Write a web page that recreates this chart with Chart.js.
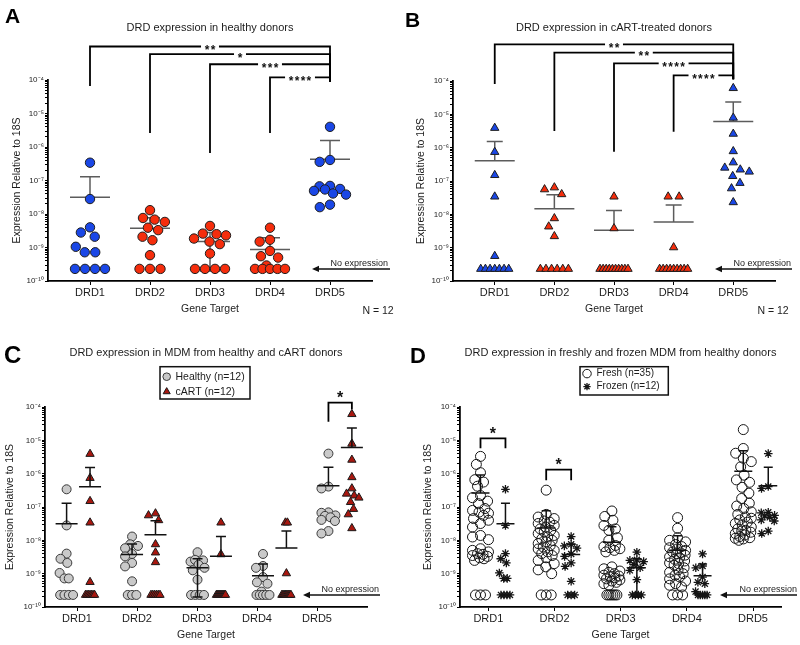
<!DOCTYPE html>
<html><head><meta charset="utf-8">
<script src="https://cdn.jsdelivr.net/npm/chart.js@4.4.1/dist/chart.umd.min.js"></script>
<style>
html,body{margin:0;padding:0;background:#fff;}
#wrap{position:relative;width:800px;height:645px;overflow:hidden;background:#fff;}
canvas{position:absolute;}
</style></head><body>
<div id="wrap">
<canvas id="cA" width="400" height="322" style="left:0;top:0"></canvas>
<canvas id="cB" width="400" height="322" style="left:400px;top:0"></canvas>
<canvas id="cC" width="400" height="323" style="left:0;top:322px"></canvas>
<canvas id="cD" width="400" height="323" style="left:400px;top:322px"></canvas>
</div>
<script>
// ---------------- data ----------------
const genes = ['DRD1', 'DRD2', 'DRD3', 'DRD4', 'DRD5'];
const yTickExponents = [-10, -9, -8, -7, -6, -5, -4];
const yTickLabels = ['10⁻¹⁰', '10⁻⁹', '10⁻⁸', '10⁻⁷', '10⁻⁶', '10⁻⁵', '10⁻⁴'];
const NOEXP = 2.3e-10; // "No expression" level

// Healthy donors (n=12), panel A; also "Healthy" in C and "Frozen" in D
const healthyDRD1 = [3.4e-7, 2.8e-8, 4e-9, 2.8e-9, 2.1e-9, 1.05e-9, 7.2e-10, 7.2e-10, 2.3e-10, 2.3e-10, 2.3e-10, 2.3e-10];
const healthyDRD2 = [1.3e-8, 7.6e-9, 6.8e-9, 5.8e-9, 3.9e-9, 3.3e-9, 2.1e-9, 1.65e-9, 5.9e-10, 2.3e-10, 2.3e-10, 2.3e-10];
const healthyDRD3 = [4.4e-9, 2.5e-9, 2.3e-9, 2.6e-9, 1.85e-9, 1.5e-9, 1.26e-9, 6.6e-10, 2.3e-10, 2.3e-10, 2.3e-10, 2.3e-10];
const healthyDRD4 = [3.9e-9, 1.7e-9, 1.5e-9, 7.9e-10, 5.5e-10, 5e-10, 2.9e-10, 2.3e-10, 2.3e-10, 2.3e-10, 2.3e-10, 2.3e-10];
const healthyDRD5 = [4e-6, 4.1e-7, 3.6e-7, 6.9e-8, 6.7e-8, 5.6e-8, 5.4e-8, 4.9e-8, 4.1e-8, 3.8e-8, 1.9e-8, 1.6e-8];

// cART-treated donors (n=12), panel B; also "cART" in C
const cartDRD1 = [3.9e-6, 7.4e-7, 1.5e-7, 3.4e-8, 5.6e-10, 2.3e-10, 2.3e-10, 2.3e-10, 2.3e-10, 2.3e-10, 2.3e-10, 2.3e-10];
const cartDRD2 = [6.4e-8, 5.6e-8, 4e-8, 7.6e-9, 4.3e-9, 2.2e-9, 2.3e-10, 2.3e-10, 2.3e-10, 2.3e-10, 2.3e-10, 2.3e-10];
const cartDRD3 = [3.4e-8, 3.8e-9, 2.3e-10, 2.3e-10, 2.3e-10, 2.3e-10, 2.3e-10, 2.3e-10, 2.3e-10, 2.3e-10, 2.3e-10, 2.3e-10];
const cartDRD4 = [3.4e-8, 3.4e-8, 1.02e-9, 2.3e-10, 2.3e-10, 2.3e-10, 2.3e-10, 2.3e-10, 2.3e-10, 2.3e-10, 2.3e-10, 2.3e-10];
const cartDRD5 = [6.1e-5, 7.9e-6, 2.6e-6, 7.8e-7, 3.6e-7, 2.5e-7, 2.2e-7, 1.9e-7, 1.4e-7, 8.7e-8, 6e-8, 2.3e-8];

// Freshly isolated MDM (n=35), panel D
const freshDRD1 = [3.3e-6, 1.9e-6, 1.07e-6, 6.6e-7, 5.6e-7, 4.2e-7, 2.2e-7, 1.9e-7, 1.5e-7, 1.26e-7, 9e-8, 7.9e-8, 7e-8, 6.5e-8, 5.6e-8, 4.5e-8, 4e-8, 3.2e-8, 2.5e-8, 1.4e-8, 1.26e-8, 1.05e-8, 5.6e-9, 5e-9, 4.5e-9, 4e-9, 3.8e-9, 3.5e-9, 3.3e-9, 3e-9, 2.8e-9, 2.5e-9, 2.3e-10, 2.3e-10, 2.3e-10];
const freshDRD2 = [3.2e-7, 6e-8, 5e-8, 4.5e-8, 3.8e-8, 3.5e-8, 3.2e-8, 2.8e-8, 2.5e-8, 2.2e-8, 2e-8, 1.8e-8, 1.6e-8, 1.4e-8, 1.26e-8, 1.1e-8, 1e-8, 9e-9, 8e-9, 7e-9, 6.3e-9, 5.5e-9, 5e-9, 4.5e-9, 4e-9, 3.5e-9, 3e-9, 2.5e-9, 2e-9, 1.6e-9, 1.3e-9, 1e-9, 2.3e-10, 2.3e-10, 2.3e-10];
const freshDRD3 = [7.6e-8, 5.2e-8, 4e-8, 2.8e-8, 2.2e-8, 2e-8, 1.2e-8, 1e-8, 7e-9, 6.5e-9, 6e-9, 5.6e-9, 5e-9, 4.5e-9, 1.6e-9, 1.4e-9, 1.2e-9, 1.1e-9, 1e-9, 9e-10, 8.5e-10, 8e-10, 7.5e-10, 7e-10, 6.5e-10, 6e-10, 5.5e-10, 5e-10, 4.5e-10, 2.3e-10, 2.3e-10, 2.3e-10, 2.3e-10, 2.3e-10, 2.3e-10];
const freshDRD4 = [4.8e-8, 2.3e-8, 1.2e-8, 1e-8, 9e-9, 7.5e-9, 6.5e-9, 6e-9, 5.5e-9, 5e-9, 4.5e-9, 4.2e-9, 4e-9, 3.6e-9, 3.2e-9, 3e-9, 2.7e-9, 2.4e-9, 2.1e-9, 2e-9, 1.8e-9, 1.5e-9, 1.3e-9, 1.1e-9, 1e-9, 9e-10, 8e-10, 7e-10, 6e-10, 5e-10, 4.5e-10, 4e-10, 2.3e-10, 2.3e-10, 2.3e-10];
const freshDRD5 = [2.1e-5, 5.7e-6, 4.1e-6, 2.9e-6, 2.3e-6, 1.6e-6, 9e-7, 6.5e-7, 5.5e-7, 3.9e-7, 2.6e-7, 1.8e-7, 1.3e-7, 1.07e-7, 9e-8, 7.2e-8, 6e-8, 5e-8, 4.6e-8, 4.1e-8, 3.5e-8, 3.2e-8, 2.9e-8, 2.5e-8, 2.2e-8, 2e-8, 1.9e-8, 1.75e-8, 1.6e-8, 1.45e-8, 1.3e-8, 1.2e-8, 1.15e-8, 1.1e-8, 1e-8];

const healthy = [healthyDRD1, healthyDRD2, healthyDRD3, healthyDRD4, healthyDRD5];
const cart = [cartDRD1, cartDRD2, cartDRD3, cartDRD4, cartDRD5];
const fresh = [freshDRD1, freshDRD2, freshDRD3, freshDRD4, freshDRD5];

// significance brackets: [gene1, series1, gene2, series2, label, log10 top, log10 left end, log10 right end]
const bracketsA = [[0,0,4,0,'**',-3.0,-4.18,-4.05],[1,0,4,0,'*',-3.23,-5.58,-4.05],[2,0,4,0,'***',-3.53,-6.18,-4.05],[3,0,4,0,'****',-3.92,-5.58,-4.05]];
const bracketsB = [[0,0,4,0,'**',-2.9,-4.09,-3.95],[1,0,4,0,'**',-3.15,-5.5,-3.95],[2,0,4,0,'****',-3.47,-6.12,-3.95],[3,0,4,0,'****',-3.83,-5.52,-3.95]];
const bracketsC = [[4,0,4,1,'*',-3.87,-4.44,-4.07]];
const bracketsD = [[0,0,0,1,'*',-4.94,-5.24,-5.24],[1,0,1,1,'*',-5.88,-6.2,-6.2]];

// ---------------- helpers ----------------
const FONT = '"Liberation Sans", Arial, Helvetica, sans-serif';
const BLUE = '#1a47e6', RED = '#f52d0c', GRAY = '#c9c9c9', DKRED = '#a8170f';

function meanSD(a) {
  const m = a.reduce((s, v) => s + v, 0) / a.length;
  const sd = Math.sqrt(a.reduce((s, v) => s + (v - m) * (v - m), 0) / (a.length - 1));
  return {m, sd};
}

function swarm(values, o) {
  const n = values.length;
  const ys = values.map(v => -Math.log10(v) * o.ppd);
  const off = new Array(n).fill(null);
  const groups = new Map();
  values.forEach((v, i) => { const k = v.toExponential(3); if (!groups.has(k)) groups.set(k, []); groups.get(k).push(i); });
  groups.forEach(g => {
    if (g.length < 2) return;
    const sp = Math.min(o.rowSp, 2 * o.rowHalf / (g.length - 1));
    g.forEach((i, j) => { off[i] = (j - (g.length - 1) / 2) * sp; });
  });
  const order = [...Array(n).keys()].filter(i => off[i] === null).sort((a, b) => values[b] - values[a]);
  for (const i of order) {
    const placed = [...Array(n).keys()].filter(j => off[j] !== null);
    const cands = [0];
    placed.forEach(j => {
      const dy = ys[i] - ys[j];
      if (Math.abs(dy) < o.d) { const dx = Math.sqrt(o.d * o.d - dy * dy); cands.push(off[j] + dx, off[j] - dx); }
    });
    cands.sort((a, b) => Math.abs(a) - Math.abs(b) || a - b);
    const ok = c => placed.every(j => (c - off[j]) ** 2 + (ys[i] - ys[j]) ** 2 >= o.d * o.d - 0.01);
    let best = cands.find(c => Math.abs(c) <= o.maxHalf + 1e-6 && ok(c));
    if (best === undefined) {
      let bestScore = -Infinity;
      for (let c = -o.maxHalf; c <= o.maxHalf + 1e-6; c += 0.5) {
        const md = Math.min(...placed.map(j => Math.hypot(c - off[j], ys[i] - ys[j])));
        const score = md - Math.abs(c) * 0.05;
        if (score > bestScore) { bestScore = score; best = c; }
      }
    }
    off[i] = best;
  }
  return off;
}

const yTickValues = [];
yTickExponents.forEach(e => {
  if (e === yTickExponents[yTickExponents.length - 1]) { yTickValues.push(Math.pow(10, e)); return; }
  for (let m = 1; m <= 9; m++) yTickValues.push(m * Math.pow(10, e));
});
function yLabel(v) {
  const l = Math.log10(v), r = Math.round(l);
  if (Math.abs(l - r) > 1e-6) return '';
  const k = yTickExponents.indexOf(r);
  return k >= 0 ? yTickLabels[k] : '';
}

// ---------------- panel specs ----------------
const specs = [
  {
    canvas: 'cA', letter: 'A', letterFont: 'bold 21px ' + FONT, letterPos: [5, 23],
    title: 'DRD expression in healthy donors', titleY: 28,
    area: {l: 48, t: 80, r: 372, b: 281}, x: [0.3, 5.7], labelStart: 1, labelStep: 1,
    series: [{name: 'Healthy', values: healthy, dx: 0, pointStyle: 'circle', radius: 4.7,
      fill: g => (g === 0 || g === 4) ? BLUE : RED, stroke: '#1e1e1e', bw: 1,
      swarm: {d: 10.5, maxHalf: 16, rowSp: 10.5, rowHalf: 15}, err: {color: '#5c5c5c', mean: 20, cap: 10}}],
    errOnTop: false, brackets: bracketsA, inline: true,
    noExpr: {from: -60, to: 18, text: 16}, nLabel: {text: 'N = 12', x: 378, y: 311},
    yTitleX: 17.5, xTitleY: 309
  },
  {
    canvas: 'cB', letter: 'B', letterFont: 'bold 21px ' + FONT, letterPos: [5, 27],
    title: 'DRD expression in cART-treated donors', titleY: 28,
    area: {l: 53, t: 81, r: 375, b: 281}, x: [0.3, 5.7], labelStart: 1, labelStep: 1,
    series: [{name: 'cART', values: cart, dx: 0, pointStyle: 'triangle', radius: 4.8,
      fill: g => (g === 0 || g === 4) ? BLUE : RED, stroke: '#1e1e1e', bw: 1,
      swarm: {d: 10, maxHalf: 16, rowSp: 11, rowHalf: 14}, err: {color: '#5c5c5c', mean: 20, cap: 8}}],
    errOnTop: false, brackets: bracketsB, inline: true,
    noExpr: {from: -60, to: 17, text: 16}, nLabel: {text: 'N = 12', x: 373, y: 311},
    yTitleX: 21, xTitleY: 309
  },
  {
    canvas: 'cC', letter: 'C', letterFont: 'bold 24px ' + FONT, letterPos: [4, 41],
    title: 'DRD expression in MDM from healthy and cART donors', titleY: 31,
    area: {l: 45, t: 85, r: 367, b: 285}, x: [0.491, 5.41], labelStart: 0.98, labelStep: 0.9166,
    series: [
      {name: 'Healthy (n=12)', values: healthy, dx: -0.179, pointStyle: 'circle', radius: 4.5,
        fill: () => GRAY, stroke: '#3a3a3a', bw: 1,
        swarm: {d: 8, maxHalf: 7, rowSp: 4.3, rowHalf: 6.5}, err: {color: '#111', mean: 11, cap: 5}},
      {name: 'cART (n=12)', values: cart, dx: 0.179, pointStyle: 'triangle', radius: 4.8,
        fill: () => DKRED, stroke: '#1a1a1a', bw: 1,
        swarm: {d: 7.5, maxHalf: 7, rowSp: 2, rowHalf: 4.5}, err: {color: '#111', mean: 11, cap: 5}}
    ],
    errOnTop: true, brackets: bracketsC, inline: false,
    legend: {box: [160, 44.7, 250, 77], mx: 166.7, tx: 175.5, ys: [54.7, 69.7], font: '10.5px ' + FONT},
    noExpr: {from: -64, to: 13, text: 12},
    yTitleX: 10, xTitleY: 313
  },
  {
    canvas: 'cD', letter: 'D', letterFont: 'bold 22px ' + FONT, letterPos: [10, 41],
    title: 'DRD expression in freshly and frozen MDM from healthy donors', titleY: 31,
    area: {l: 60, t: 85, r: 381, b: 285}, x: [0.498, 5.384], labelStart: 0.93, labelStep: 1.007,
    series: [
      {name: 'Fresh (n=35)', values: fresh, dx: -0.19, pointStyle: 'circle', radius: 5,
        fill: () => 'rgba(255,255,255,0)', stroke: '#151515', bw: 1,
        swarm: {d: 9, maxHalf: 8, rowSp: 6, rowHalf: 5}, err: {color: '#111', mean: 9, cap: 4.5}},
      {name: 'Frozen (n=12)', values: healthy, dx: 0.19, pointStyle: 'star', radius: 4.3,
        fill: () => '#151515', stroke: '#151515', bw: 1.3,
        swarm: {d: 7, maxHalf: 7, rowSp: 3.5, rowHalf: 4.5}, err: {color: '#111', mean: 9, cap: 4.5}}
    ],
    errOnTop: true, brackets: bracketsD, inline: false,
    legend: {box: [180, 44.7, 268.3, 73], mx: 187, tx: 196.5, ys: [51.6, 64.6], font: '10px ' + FONT},
    noExpr: {from: -61, to: 16, text: 16},
    yTitleX: 28, xTitleY: 313
  }
];

// ---------------- drawing ----------------
function text(ctx, s, x, y, font, align, base, color) {
  ctx.font = font; ctx.textAlign = align || 'center'; ctx.textBaseline = base || 'middle';
  ctx.fillStyle = color || '#1c1c1c'; ctx.fillText(s, x, y);
}

function build(spec) {
  const canvas = document.getElementById(spec.canvas);
  const W = canvas.width, H = canvas.height;
  const a = spec.area;
  const ppd = (a.b - a.t) / 6;
  const ppu = (a.r - a.l) / (spec.x[1] - spec.x[0]);
  const datasets = [];
  const stats = [];
  spec.series.forEach(s => {
    s.values.forEach((vals, gi) => {
      const offs = swarm(vals, Object.assign({ppd}, s.swarm));
      datasets.push({
        label: s.name + ' ' + genes[gi],
        data: vals.map((v, k) => ({x: gi + 1 + s.dx + offs[k] / ppu, y: v})),
        pointStyle: s.pointStyle, pointRadius: s.radius, pointHoverRadius: s.radius,
        backgroundColor: s.fill(gi), borderColor: s.stroke, borderWidth: s.bw,
        showLine: false, clip: false
      });
      stats.push(Object.assign({x: gi + 1 + s.dx, s}, meanSD(vals)));
    });
  });

  function drawErr(chart) {
    const ctx = chart.ctx, xs = chart.scales.x, ys = chart.scales.y;
    ctx.save();
    ctx.lineWidth = 1.5;
    stats.forEach(st => {
      const e = st.s.err;
      const cx = xs.getPixelForValue(st.x);
      const ym = ys.getPixelForValue(st.m);
      const yu = ys.getPixelForValue(st.m + st.sd);
      ctx.strokeStyle = e.color;
      ctx.beginPath();
      ctx.moveTo(cx - e.mean, ym); ctx.lineTo(cx + e.mean, ym);
      ctx.moveTo(cx, ym); ctx.lineTo(cx, yu);
      ctx.moveTo(cx - e.cap, yu); ctx.lineTo(cx + e.cap, yu);
      const lo = st.m - st.sd;
      if (lo > 0) {
        const yl = ys.getPixelForValue(Math.max(lo, 1e-10));
        ctx.moveTo(cx, ym); ctx.lineTo(cx, yl);
        if (lo >= 1e-10) { ctx.moveTo(cx - e.cap, yl); ctx.lineTo(cx + e.cap, yl); }
      }
      ctx.stroke();
    });
    ctx.restore();
  }

  function drawDeco(chart) {
    const ctx = chart.ctx, xs = chart.scales.x, ys = chart.scales.y, ca = chart.chartArea;
    ctx.save();
    // letter + title
    text(ctx, spec.letter, spec.letterPos[0], spec.letterPos[1], spec.letterFont, 'left', 'alphabetic', '#000');
    text(ctx, spec.title, (ca.left + ca.right) / 2, spec.titleY, '11px ' + FONT);
    // axis titles
    text(ctx, 'Gene Target', (ca.left + ca.right) / 2, spec.xTitleY, '10.5px ' + FONT);
    ctx.save();
    ctx.translate(spec.yTitleX, (ca.top + ca.bottom) / 2);
    ctx.rotate(-Math.PI / 2);
    text(ctx, 'Expression Relative to 18S', 0, 0, '10.5px ' + FONT);
    ctx.restore();
    if (spec.nLabel) text(ctx, spec.nLabel.text, spec.nLabel.x, spec.nLabel.y, '10.5px ' + FONT);
    // no expression arrow
    const ay = ys.getPixelForValue(NOEXP);
    const x1 = ca.right + spec.noExpr.from, x2 = ca.right + spec.noExpr.to;
    ctx.strokeStyle = '#111'; ctx.lineWidth = 1.5;
    ctx.beginPath(); ctx.moveTo(x1 + 5, ay); ctx.lineTo(x2, ay); ctx.stroke();
    ctx.fillStyle = '#111';
    ctx.beginPath(); ctx.moveTo(x1, ay); ctx.lineTo(x1 + 7, ay - 3.2); ctx.lineTo(x1 + 7, ay + 3.2); ctx.closePath(); ctx.fill();
    text(ctx, 'No expression', ca.right + spec.noExpr.text, ay - 2.5, '9px ' + FONT, 'right', 'alphabetic');
    // brackets
    ctx.strokeStyle = '#000'; ctx.lineWidth = 1.8;
    spec.brackets.forEach(b => {
      const [g1, s1, g2, s2, label, top, ld, rd] = b;
      const bx1 = xs.getPixelForValue(g1 + 1 + spec.series[s1].dx);
      const bx2 = xs.getPixelForValue(g2 + 1 + spec.series[s2].dx);
      const yt = ys.getPixelForValue(Math.pow(10, top));
      const yl = ys.getPixelForValue(Math.pow(10, ld));
      const yr = ys.getPixelForValue(Math.pow(10, rd));
      ctx.beginPath(); ctx.moveTo(bx1, yl); ctx.lineTo(bx1, yt); ctx.lineTo(bx2, yt); ctx.lineTo(bx2, yr); ctx.stroke();
      const xm = (bx1 + bx2) / 2;
      if (spec.inline) {
        ctx.font = 'bold 12px ' + FONT;
        ctx.letterSpacing = '1.3px';
        const w = ctx.measureText(label).width;
        ctx.fillStyle = '#fff';
        ctx.fillRect(xm - w / 2 - 3, yt - 3, w + 6, 6);
        text(ctx, label, xm + 0.65, yt + 7.3, 'bold 12px ' + FONT, 'center', 'alphabetic', '#111');
        ctx.letterSpacing = '0px';
      } else {
        text(ctx, label, xm, yt + 0.5, 'bold 16px ' + FONT, 'center', 'alphabetic', '#111');
      }
    });
    // legend
    if (spec.legend) {
      const L = spec.legend;
      ctx.strokeStyle = '#111'; ctx.lineWidth = 1.5;
      ctx.strokeRect(L.box[0], L.box[1], L.box[2] - L.box[0], L.box[3] - L.box[1]);
      spec.series.forEach((s, i) => {
        ctx.fillStyle = s.fill(0); ctx.strokeStyle = s.stroke; ctx.lineWidth = s.bw;
        Chart.helpers.drawPoint(ctx, {pointStyle: s.pointStyle, radius: s.radius * 0.85, rotation: 0, borderWidth: s.bw}, L.mx, L.ys[i]);
        text(ctx, s.name, L.tx, L.ys[i], L.font, 'left', 'middle');
      });
    }
    ctx.restore();
  }

  const deco = {
    id: 'deco' + spec.letter,
    beforeDatasetsDraw(chart) { if (!spec.errOnTop) drawErr(chart); },
    afterDatasetsDraw(chart) { if (spec.errOnTop) drawErr(chart); },
    afterDraw(chart) { drawDeco(chart); }
  };

  return new Chart(canvas, {
    type: 'scatter',
    data: {datasets},
    options: {
      responsive: false, animation: false, devicePixelRatio: 1, events: [],
      layout: {padding: {left: 0, top: a.t, right: W - a.r, bottom: 0}},
      plugins: {legend: {display: false}, tooltip: {enabled: false}, title: {display: false}},
      scales: {
        x: {
          type: 'linear', min: spec.x[0], max: spec.x[1],
          afterBuildTicks: s => { s.ticks = genes.map((g, i) => ({value: spec.labelStart + i * spec.labelStep})); },
          afterFit: s => { s.height = H - a.b; },
          ticks: {callback: (v, i) => genes[i], font: {family: FONT, size: 11}, color: '#1c1c1c', padding: 1, autoSkip: false, maxRotation: 0},
          grid: {drawOnChartArea: false, tickLength: 4, color: '#000', lineWidth: 1},
          border: {color: '#000', width: 1.8}
        },
        y: {
          type: 'logarithmic', min: 1e-10, max: 1e-4,
          afterBuildTicks: s => { s.ticks = yTickValues.map(v => ({value: v})); },
          afterFit: s => { s.width = a.l; },
          ticks: {callback: v => yLabel(v), font: {family: FONT, size: 8}, color: '#1c1c1c', padding: 1, autoSkip: false},
          grid: {drawOnChartArea: false, tickLength: 3, color: '#000', lineWidth: 1},
          border: {color: '#000', width: 1.8}
        }
      }
    },
    plugins: [deco]
  });
}

specs.forEach(build);
</script>
</body></html>
